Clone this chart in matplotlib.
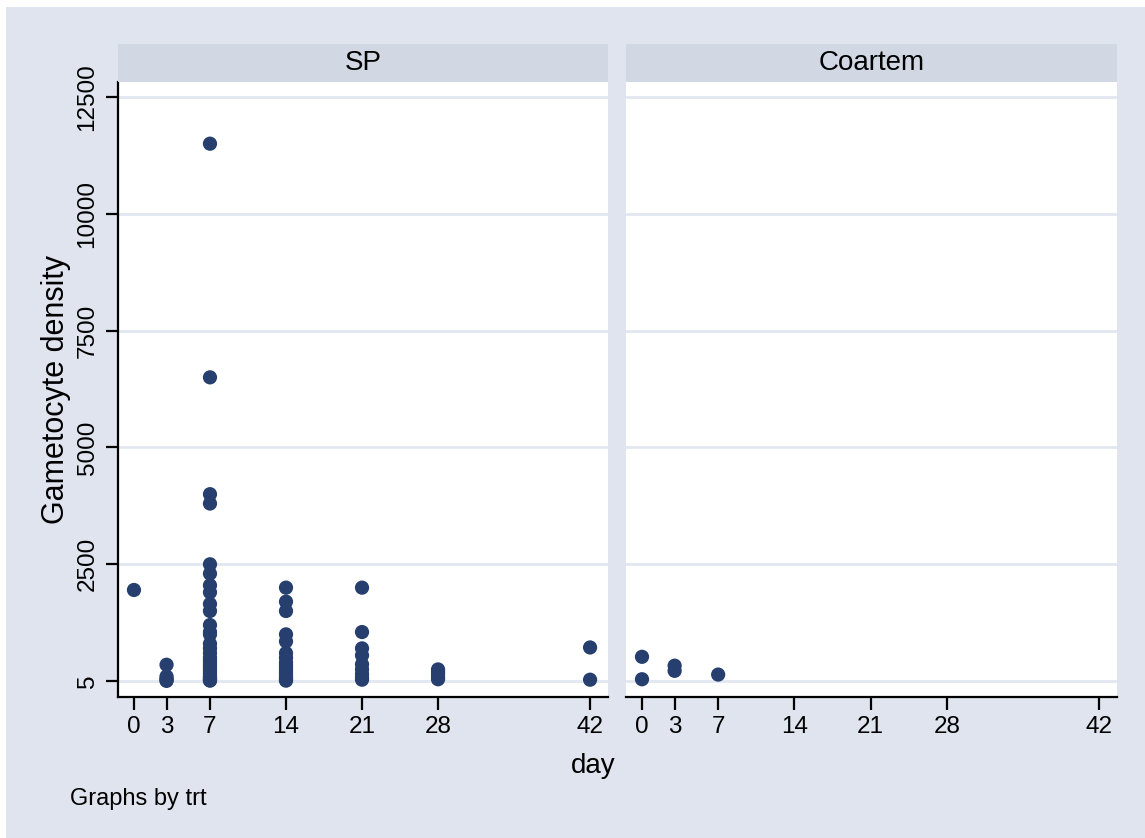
import matplotlib
matplotlib.use('Agg')
from matplotlib import pyplot as plt
from matplotlib.patches import Rectangle
import numpy as np

plt.rcParams['font.family'] = ['Liberation Sans', 'DejaVu Sans']

# gametocyte density by day, per treatment arm
sp_day0 = [1950]
sp_day3 = [350, 100, 50, 20, 5]
sp_day7 = [11500, 6500, 4000, 3800, 2500, 2300, 2050, 1900, 1650, 1500,
           1200, 1050, 1000, 800, 700, 600, 500, 450, 400, 350, 300, 250,
           200, 150, 100, 80, 50, 30, 20, 10]
sp_day14 = [2000, 1700, 1500, 1000, 850, 600, 500, 400, 350, 300, 250,
            200, 150, 100, 60, 30, 10]
sp_day21 = [2000, 1050, 700, 550, 360, 250, 150, 80, 30]
sp_day28 = [250, 200, 150, 80, 40]
sp_day42 = [720, 30]

coartem_day0 = [520, 40]
coartem_day3 = [330, 220]
coartem_day7 = [140]

day_ticks = [0, 3, 7, 14, 21, 28, 42]
density_ticks = [5, 2500, 5000, 7500, 10000, 12500]
panel_titles = ['SP', 'Coartem']

sp = {0: sp_day0, 3: sp_day3, 7: sp_day7, 14: sp_day14, 21: sp_day21,
      28: sp_day28, 42: sp_day42}
coartem = {0: coartem_day0, 3: coartem_day3, 7: coartem_day7}

BG = '#dfe4ee'
STRIP = '#d1d8e4'
GRID = '#e1e7f1'
DOT = '#273f6f'

W, H = 1145, 838
fig = plt.figure(figsize=(W / 100, H / 100), dpi=100, facecolor='white')
fig.patches.append(Rectangle((6 / W, 0), 1, 1 - 7 / H, transform=fig.transFigure,
                             facecolor=BG, edgecolor='none', zorder=-10))


def px_axes(x0, y0, x1, y1):
    return fig.add_axes([x0 / W, 1 - y1 / H, (x1 - x0) / W, (y1 - y0) / H])


def draw_panel(ax, groups, title, strip_x0, strip_x1, show_y):
    for d, vals in groups.items():
        ax.scatter([d] * len(vals), vals, s=105, color=DOT, edgecolors='none',
                   zorder=3, clip_on=False)
    ax.set_xlim(-1.47, 43.65)
    ax.set_ylim(-340, 12820)
    ax.set_xticks(day_ticks)
    ax.set_yticks(density_ticks)
    for v in density_ticks:
        ax.axhline(v, color=GRID, lw=2, zorder=1)
    for s in ['top', 'right']:
        ax.spines[s].set_visible(False)
    ax.spines['bottom'].set_linewidth(1.6)
    ax.spines['left'].set_linewidth(1.6)
    ax.tick_params(axis='x', length=9, width=1.6, labelsize=17.5, pad=5)
    if show_y:
        ax.tick_params(axis='y', length=9, width=1.6, labelsize=17.5, pad=5)
        ax.set_yticklabels([str(v) for v in density_ticks], rotation=90,
                           va='center')
    else:
        ax.spines['left'].set_visible(False)
        ax.tick_params(axis='y', left=False, labelleft=False)
    strip = px_axes(strip_x0, 44, strip_x1, 82)
    strip.set_facecolor(STRIP)
    strip.set_xticks([])
    strip.set_yticks([])
    for s in strip.spines.values():
        s.set_visible(False)
    strip.text(0.5, 0.5, title, ha='center', va='center', fontsize=20,
               transform=strip.transAxes)


ax_sp = px_axes(118, 82, 608, 697)
draw_panel(ax_sp, sp, panel_titles[0], 118, 608, True)
ax_sp.set_ylabel('Gametocyte density', fontsize=22, labelpad=4)

ax_co = px_axes(626, 82, 1117, 697)
draw_panel(ax_co, coartem, panel_titles[1], 626, 1117, False)

fig.text(593 / W, 1 - 766 / H, 'day', ha='center', va='center', fontsize=20)
fig.text(70 / W, 1 - 799 / H, 'Graphs by trt', ha='left', va='center',
         fontsize=17)

fig.savefig('out.png', dpi=100, facecolor='white')
